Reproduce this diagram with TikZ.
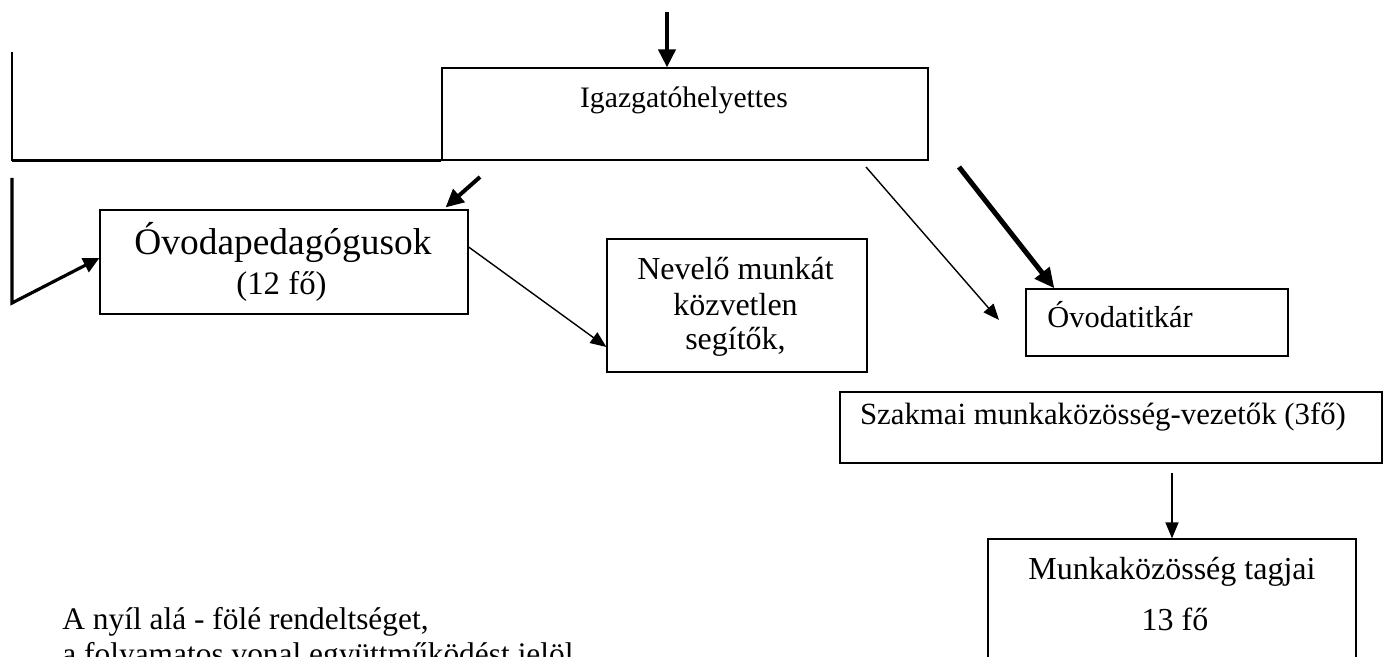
\documentclass[tikz,border=0pt]{standalone}
\usepackage{fontspec}
\setmainfont{Liberation Serif}
\usetikzlibrary{arrows.meta}
\begin{document}
\begin{tikzpicture}[x=0.5pt,y=-0.5pt,
  box/.style={draw, line width=0.6pt, inner sep=0pt, anchor=center},
  txt/.style={inner sep=0pt, anchor=base, font=\fontsize{14.85}{17}\selectfont},
  midtxt/.style={inner sep=0pt, anchor=base, font=\fontsize{16}{18}\selectfont},
  bigtxt/.style={inner sep=0pt, anchor=base, font=\fontsize{18.7}{22}\selectfont},
  boldarrow/.style={line width=2pt, -{Triangle[length=9pt,width=8.5pt]}},
  heavyarrow/.style={line width=2.5pt, -{Triangle[length=10pt,width=9pt]}},
  midarrow/.style={line width=1.6pt, -{Triangle[length=8pt,width=7.5pt]}},
  thinarrow/.style={line width=0.7pt, -{Triangle[length=8pt,width=6.5pt]}},
  collab/.style={line width=0.8pt},
  collabthick/.style={line width=1.6pt}
]
\useasboundingbox (0,0) rectangle (1383,657);
\clip (0,0) rectangle (1383,657);

% boxes
\node[box, minimum width=243pt, minimum height=46pt] (igh) at (685,114) {};
\node[box, minimum width=184pt, minimum height=52pt] (ovp) at (284,262) {};
\node[box, minimum width=130pt, minimum height=66.5pt] (nev) at (737,305.5) {};
\node[box, minimum width=131pt, minimum height=33.5pt] (tit) at (1157,322.5) {};
\node[box, minimum width=271pt, minimum height=35.5pt] (szak) at (1111,427.5) {};
\node[box, minimum width=184pt, minimum height=80pt] (mkt) at (1172,619) {};

% texts
\node[txt] (tIgh) at (684,108) {Igazgatóhelyettes};
\node[bigtxt] (tOvp) at (283,255) {Óvodapedagógusok};
\node[midtxt, font=\fontsize{16.4}{19}\selectfont] (tOvp2) at (281.5,295) {(12 fő)};
\node[midtxt] (tNev1) at (735.5,280) {Nevelő munkát};
\node[midtxt] (tNev2) at (735.5,316) {közvetlen};
\node[midtxt] (tNev3) at (735.5,350) {segítők,};
\node[txt, anchor=base west, font=\fontsize{15.2}{17}\selectfont] (tTit) at (1047,328) {Óvodatitkár};
\node[txt, font=\fontsize{15.4}{17}\selectfont] (tSzak) at (1103,425) {Szakmai munkaközösség-vezetők (3fő)};
\node[midtxt] (tMkt1) at (1172,580) {Munkaközösség tagjai};
\node[midtxt] (tMkt2) at (1175,631) {13 fő};
\node[txt, anchor=base west, font=\fontsize{15.7}{18}\selectfont] (note1) at (62,630) {A nyíl alá - fölé rendeltséget,};
\node[txt, anchor=base west, font=\fontsize{15.7}{18}\selectfont] (note2) at (62,665) {a folyamatos vonal együttműködést jelöl};

% free ends
\coordinate (topS) at (667,12);
\coordinate (lt) at (12,52);
\coordinate (lb1) at (12,178);
\coordinate (lb2) at (12,303);
\coordinate (ovpS) at (480,177);
\coordinate (titThinS) at (866,167);
\coordinate (titThinE) at (999,320);
\coordinate (titS) at (959,167);
\coordinate (szakS) at (1172,473);

% connectors
\draw[boldarrow] (topS) -- (topS |- igh.north);
\draw[collab] (lt) -- (lt |- igh.south);
\draw[collabthick] (lt |- igh.south) -- (igh.south west);
\draw[midarrow] (lb1) -- (lb2) -- ([yshift=2pt]ovp.west);
\draw[boldarrow] (ovpS) -- ([xshift=-11.5pt,yshift=1pt]ovp.north east);
\draw[thinarrow] ([yshift=7.5pt]ovp.east) -- ([yshift=-20.75pt]nev.west);
\draw[thinarrow] (titThinS) -- (titThinE);
\draw[heavyarrow] (titS) -- ([xshift=14.5pt]tit.north west);
\draw[thinarrow] (szakS) -- (szakS |- mkt.north);
\end{tikzpicture}
\end{document}
